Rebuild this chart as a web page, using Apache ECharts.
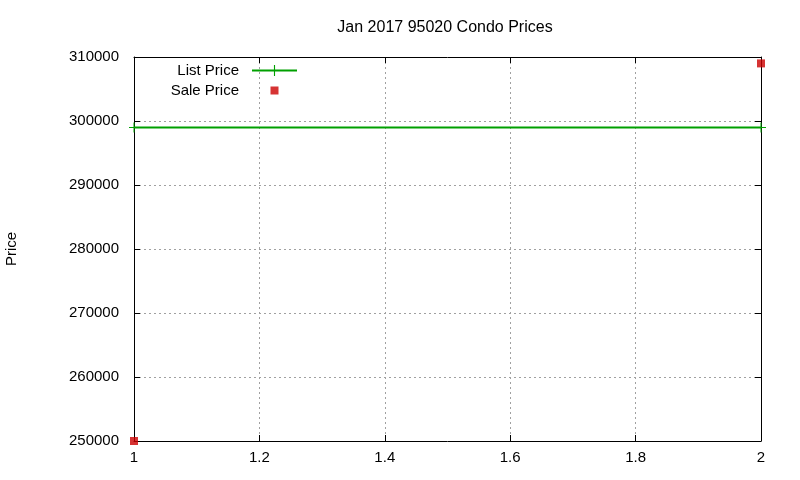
<!DOCTYPE html>
<html><head><meta charset="utf-8">
<script src="https://cdn.jsdelivr.net/npm/echarts@6/dist/echarts.min.js"></script>
<style>html,body{margin:0;padding:0;background:#fff}#c{width:800px;height:480px}</style>
</head><body><div id="c"></div>
<script>
const title = 'Jan 2017 95020 Condo Prices';
const listX = [1, 2];
const listPrice = [299000, 299000];
const saleX = [1, 2];
const salePrice = [250000, 309000];
const xTicks = [1, 1.2, 1.4, 1.6, 1.8, 2];
const yTicks = [250000, 260000, 270000, 280000, 290000, 300000, 310000];

const FONT = 'Liberation Sans, Arial, sans-serif';
const plus = 'path://M-0.5,-5 h1 v4.5 h4.5 v1 h-4.5 v4.5 h-1 v-4.5 h-4.5 v-1 h4.5 z';
const squareIcon = 'path://M0,0 L0,0 M14,14 L14,14 M3,3 h8 v8 h-8 z';
const chart = echarts.init(document.getElementById('c'), null, {renderer:'canvas'});
const axCommon = {
  axisLine:{show:true, lineStyle:{color:'#000', width:1}},
  axisTick:{show:true, inside:true, length:6, lineStyle:{color:'#000'}},
};
chart.setOption({
  animation:false,
  backgroundColor:'#fff',
  title:{text:title, left:440, top:15, textAlign:'center',
    textStyle:{fontFamily:FONT, fontSize:16, fontWeight:'normal', color:'#000'}},
  grid:{left:134, right:39, top:57, bottom:39, outerBoundsMode:'none', containLabel:false},
  legend:{
    orient:'vertical', right:502, top:63, padding:0, align:'right', itemGap:5,
    itemWidth:45, itemHeight:14, symbolKeepAspect:true,
    textStyle:{fontFamily:FONT, fontSize:15, color:'#000', padding:[0,8,0,0]},
    data:[{name:'List Price'},{name:'Sale Price', icon:squareIcon}]
  },
  xAxis:[{
    type:'value', min:xTicks[0], max:xTicks[xTicks.length-1], interval:0.2,
    position:'bottom', ...axCommon,
    axisLabel:{fontFamily:FONT, fontSize:15, color:'#000', margin:9,
      formatter:v=>String(Math.round(v*10)/10)},
    splitLine:{show:true, lineStyle:{color:'#a0a0a0', type:[2,3], width:1}}
  },{
    type:'value', min:xTicks[0], max:xTicks[xTicks.length-1], interval:0.2,
    position:'top', ...axCommon, axisLabel:{show:false}, splitLine:{show:false}
  }],
  yAxis:[{
    type:'value', min:yTicks[0], max:yTicks[yTicks.length-1], interval:10000,
    position:'left', ...axCommon,
    name:'Price', nameLocation:'middle', nameGap:115, nameRotate:90,
    nameTextStyle:{fontFamily:FONT, fontSize:15, color:'#000'},
    axisLabel:{fontFamily:FONT, fontSize:15, color:'#000', margin:15,
      formatter:v=>String(v)},
    splitLine:{show:true, lineStyle:{color:'#a0a0a0', type:[2,3], width:1}}
  },{
    type:'value', min:yTicks[0], max:yTicks[yTicks.length-1], interval:10000,
    position:'right', ...axCommon, axisLabel:{show:false}, splitLine:{show:false}
  }],
  series:[{
    name:'List Price', type:'line',
    data:listX.map((x,i)=>[x, listPrice[i]]),
    symbol:plus, symbolSize:10, showSymbol:true,
    itemStyle:{color:'#00a000'},
    lineStyle:{color:'#00a000', width:2},
    clip:false
  },{
    name:'Sale Price', type:'scatter',
    data:saleX.map((x,i)=>[x, salePrice[i]]),
    symbol:'rect', symbolSize:8,
    itemStyle:{color:'#cc0000'},
    clip:false
  }]
});
</script></body></html>
